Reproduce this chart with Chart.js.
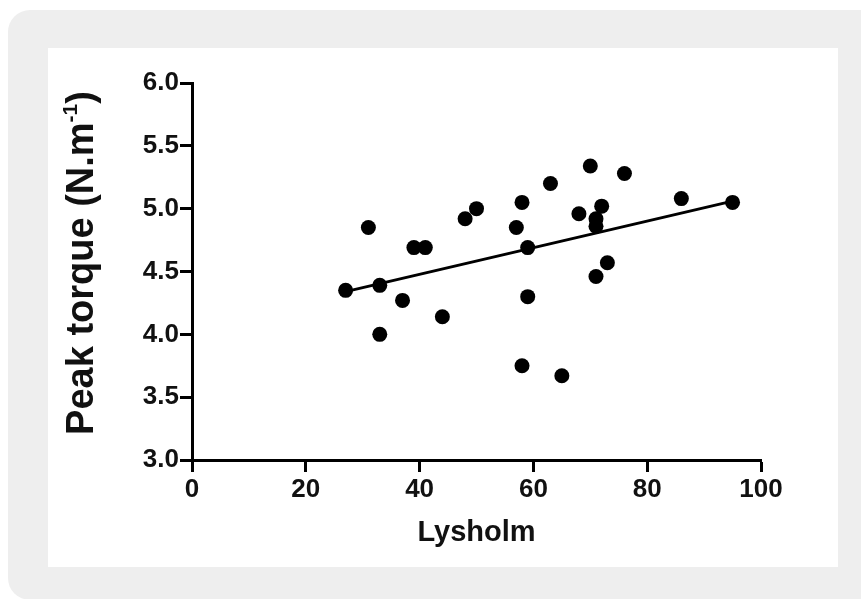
<!DOCTYPE html>
<html>
<head>
<meta charset="utf-8">
<script src="https://cdn.jsdelivr.net/npm/chart.js@4.4.1/dist/chart.umd.min.js"></script>
<style>
  html, body { margin: 0; padding: 0; background: #fff; overflow: hidden; }
  .outer-box { position: absolute; left: 8px; top: 10px; width: 880px; height: 590px; background: #eeeeee; border-radius: 22px; }
  .chart-panel { position: absolute; left: 48px; top: 48px; width: 790px; height: 519px; background: #fff; }
</style>
</head>
<body>
<div class="outer-box"></div>
<div class="chart-panel">
  <canvas id="torqueChart" width="790" height="519"></canvas>
</div>
<script>
// Lysholm score vs peak torque
const lysholm = [27, 31, 33, 33, 37, 39, 41, 44, 48, 50, 57, 58, 58, 59, 59, 63, 65, 68, 70, 71, 71, 71, 72, 73, 76, 86, 95];
const peakTorque = [4.35, 4.85, 4.39, 4.00, 4.27, 4.69, 4.69, 4.14, 4.92, 5.00, 4.85, 5.05, 3.75, 4.69, 4.30, 5.20, 3.67, 4.96, 5.34, 4.92, 4.86, 4.46, 5.02, 4.57, 5.28, 5.08, 5.05];

// fitted line end points
const fitX = [27, 95];
const fitY = [4.34, 5.06];

const xTicks = [0, 20, 40, 60, 80, 100];
const yTicks = [3.0, 3.5, 4.0, 4.5, 5.0, 5.5, 6.0];

const xTitle = 'Lysholm';
const yTitle = ['Peak torque (N.m', '-1', ')'];

const FONT = '"Liberation Sans", Arial, sans-serif';

const drawTitles = {
  id: 'drawTitles',
  afterDraw(chart) {
    const { ctx, chartArea } = chart;
    ctx.save();
    ctx.fillStyle = '#111';
    ctx.textBaseline = 'alphabetic';

    ctx.font = 'bold 29px ' + FONT;
    ctx.textAlign = 'center';
    ctx.fillText(xTitle, (chartArea.left + chartArea.right) / 2, 493);

    // y title is rotated and has a superscript
    const bigFont = 'bold 38px ' + FONT;
    const supFont = 'bold 21px ' + FONT;
    ctx.font = bigFont;
    const w1 = ctx.measureText(yTitle[0]).width;
    const w3 = ctx.measureText(yTitle[2]).width;
    ctx.font = supFont;
    const w2 = ctx.measureText(yTitle[1]).width;
    const total = w1 + w2 + w3;

    ctx.translate(45, 215);
    ctx.rotate(-Math.PI / 2);
    ctx.textAlign = 'left';
    let x = -total / 2;
    ctx.font = bigFont;
    ctx.fillText(yTitle[0], x, 0);
    x += w1;
    ctx.font = supFont;
    ctx.fillText(yTitle[1], x, -16);
    x += w2;
    ctx.font = bigFont;
    ctx.fillText(yTitle[2], x, 0);
    ctx.restore();
  }
};

const points = lysholm.map((v, i) => ({ x: v, y: peakTorque[i] }));
const fitLine = fitX.map((v, i) => ({ x: v, y: fitY[i] }));

new Chart(document.getElementById('torqueChart'), {
  type: 'scatter',
  data: {
    datasets: [
      {
        label: 'Fit',
        data: fitLine,
        showLine: true,
        borderColor: '#000',
        borderWidth: 3,
        pointRadius: 0
      },
      {
        label: 'Patients',
        data: points,
        backgroundColor: '#000',
        borderWidth: 0,
        pointRadius: 7.5
      }
    ]
  },
  options: {
    responsive: false,
    animation: false,
    devicePixelRatio: 1,
    layout: { padding: { left: 0, top: 35, right: 77, bottom: 0 } },
    plugins: {
      legend: { display: false },
      tooltip: { enabled: false }
    },
    scales: {
      x: {
        type: 'linear',
        min: 0,
        max: 100,
        afterBuildTicks: (scale) => { scale.ticks = xTicks.map(v => ({ value: v })); },
        afterFit: (scale) => { scale.height = 107; },
        border: { display: true, color: '#000', width: 3 },
        grid: { drawOnChartArea: false, drawTicks: true, tickLength: 12, tickWidth: 3, tickColor: '#000' },
        ticks: {
          padding: 2,
          color: '#111',
          font: { family: FONT, size: 26, weight: 'bold' },
          maxRotation: 0
        }
      },
      y: {
        type: 'linear',
        min: 3,
        max: 6,
        afterBuildTicks: (scale) => { scale.ticks = yTicks.map(v => ({ value: v })); },
        afterFit: (scale) => { scale.width = 144; },
        border: { display: true, color: '#000', width: 3 },
        grid: { drawOnChartArea: false, drawTicks: true, tickLength: 12, tickWidth: 3, tickColor: '#000' },
        ticks: {
          padding: 1,
          color: '#111',
          font: { family: FONT, size: 26, weight: 'bold' },
          callback: (v) => Number(v).toFixed(1)
        }
      }
    }
  },
  plugins: [drawTitles]
});
</script>
</body>
</html>
